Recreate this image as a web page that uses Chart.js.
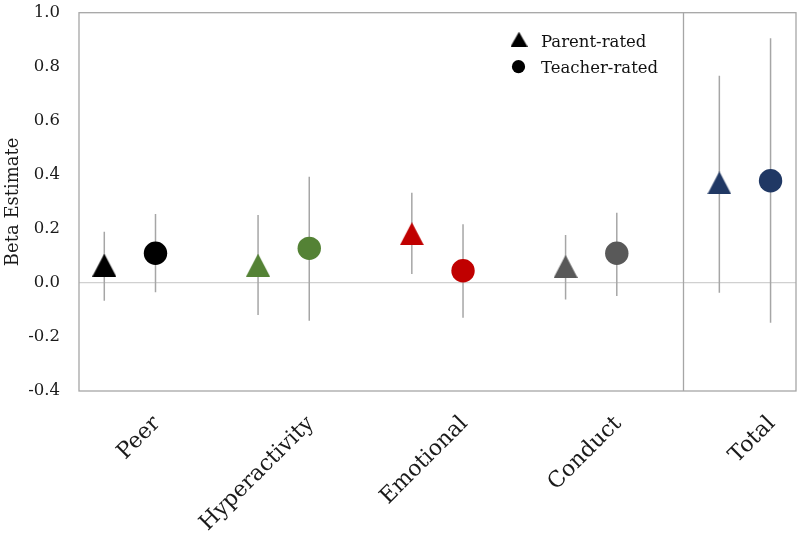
<!DOCTYPE html>
<html>
<head>
<meta charset="utf-8">
<script src="https://cdn.jsdelivr.net/npm/chart.js@4/dist/chart.umd.min.js"></script>
<style>
html,body{margin:0;padding:0;background:#fff;}
#wrap{width:800px;height:539px;position:relative;}
</style>
</head>
<body>
<div id="wrap"><canvas id="c" width="800" height="539"></canvas></div>
<script>
// ---- data ----
const categories = ['Peer', 'Hyperactivity', 'Emotional', 'Conduct', 'Total'];
const parentEst = [0.066, 0.066, 0.182, 0.061, 0.370];
const parentLo  = [-0.066, -0.119, 0.033, -0.061, -0.036];
const parentHi  = [0.189, 0.251, 0.334, 0.177, 0.767];
const teacherEst = [0.110, 0.128, 0.045, 0.110, 0.378];
const teacherLo  = [-0.035, -0.140, -0.129, -0.048, -0.147];
const teacherHi  = [0.255, 0.393, 0.217, 0.260, 0.905];
const yTicks = [-0.4, -0.2, 0.0, 0.2, 0.4, 0.6, 0.8, 1.0];
const legendLabels = ['Parent-rated', 'Teacher-rated'];

// ---- styles ----
const catColors = ['#000000', '#548235', '#C00000', '#595959', '#203864'];
const pairOffset = 0.1665;
const separatorAt = 3.597;
const serif = '"DejaVu Serif", "Liberation Serif", serif';

function makeTriangle(color, w, h) {
  const cv = document.createElement('canvas');
  cv.width = w; cv.height = h;
  const g = cv.getContext('2d');
  g.fillStyle = color;
  g.beginPath();
  g.moveTo(w / 2, 0);
  g.lineTo(w, h);
  g.lineTo(0, h);
  g.closePath();
  g.fill();
  return cv;
}

const parentPts = categories.map((c, i) => ({x: i - pairOffset, y: parentEst[i]}));
const teacherPts = categories.map((c, i) => ({x: i + pairOffset, y: teacherEst[i]}));
const errPts = [];
categories.forEach((c, i) => {
  errPts.push({x: i - pairOffset, y: parentLo[i]}, {x: i - pairOffset, y: parentHi[i]}, {x: i - pairOffset, y: null});
  errPts.push({x: i + pairOffset, y: teacherLo[i]}, {x: i + pairOffset, y: teacherHi[i]}, {x: i + pairOffset, y: null});
});

function zeroPad(scale) {
  scale.paddingTop = 0; scale.paddingBottom = 0;
  scale.paddingLeft = 0; scale.paddingRight = 0;
}

const decoPlugin = {
  id: 'deco',
  beforeDatasetsDraw(chart) {
    const {ctx, chartArea: a, scales: {x}} = chart;
    ctx.save();
    ctx.strokeStyle = '#a6a6a6';
    ctx.lineWidth = 1.3;
    ctx.strokeRect(a.left, a.top, a.right - a.left, a.bottom - a.top);
    const sx = Math.round(x.getPixelForValue(separatorAt)) + 0.5;
    ctx.beginPath();
    ctx.moveTo(sx, a.top);
    ctx.lineTo(sx, a.bottom);
    ctx.stroke();
    ctx.restore();
  },
  afterDraw(chart) {
    const {ctx} = chart;
    ctx.save();
    ctx.fillStyle = '#000';
    const tri = makeTriangle('#000', 17, 15);
    ctx.drawImage(tri, 519 - 8.5, 39.2 - 7.5);
    ctx.beginPath();
    ctx.arc(518.5, 66.7, 6.6, 0, Math.PI * 2);
    ctx.fill();
    ctx.font = '16.5px ' + serif;
    ctx.textBaseline = 'alphabetic';
    ctx.textAlign = 'left';
    ctx.fillStyle = '#111';
    ctx.fillText(legendLabels[0], 541, 46.7);
    ctx.fillText(legendLabels[1], 541, 73.3);
    ctx.restore();
  }
};

new Chart(document.getElementById('c'), {
  type: 'scatter',
  data: {
    datasets: [
      {
        label: 'err',
        data: errPts,
        showLine: true,
        spanGaps: false,
        borderColor: '#a6a6a6',
        borderWidth: 1.5,
        pointRadius: 0,
        order: 3
      },
      {
        label: legendLabels[0],
        data: parentPts,
        pointStyle: catColors.map(c => makeTriangle(c, 24, 23)),
        pointRadius: 12,
        order: 1
      },
      {
        label: legendLabels[1],
        data: teacherPts,
        pointStyle: 'circle',
        pointRadius: 11.7,
        pointBackgroundColor: catColors,
        pointBorderWidth: 0,
        borderColor: catColors,
        order: 2
      }
    ]
  },
  options: {
    responsive: false,
    animation: false,
    events: [],
    layout: {autoPadding: false, padding: {top: 12.7, right: 4, left: 0, bottom: 0}},
    plugins: {legend: {display: false}, tooltip: {enabled: false}},
    scales: {
      x: {
        type: 'linear',
        min: -0.331,
        max: 4.332,
        grid: {display: false, drawTicks: false},
        border: {display: false},
        afterBuildTicks(scale) { scale.ticks = categories.map((c, i) => ({value: i})); },
        afterFit(scale) { scale.height = 148; zeroPad(scale); },
        ticks: {
          autoSkip: false,
          maxRotation: 45,
          minRotation: 45,
          padding: 20,
          labelOffset: 27,
          color: '#1a1a1a',
          font: {family: serif, size: 22},
          callback: (v) => categories[v]
        }
      },
      y: {
        min: -0.4,
        max: 1.0,
        afterBuildTicks(scale) { scale.ticks = yTicks.map(v => ({value: v})); },
        afterFit(scale) { scale.width = 79; zeroPad(scale); },
        border: {display: false},
        grid: {
          drawTicks: false,
          color: (ctx) => (ctx.tick && Math.abs(ctx.tick.value) < 1e-9) ? '#d0d0d0' : 'rgba(0,0,0,0)',
          lineWidth: 1.3
        },
        ticks: {
          padding: 19,
          color: '#1a1a1a',
          font: {family: serif, size: 16.5},
          callback: (v) => (Math.round(v * 10) / 10).toFixed(1)
        },
        title: {
          display: true,
          text: 'Beta Estimate',
          color: '#1a1a1a',
          font: {family: serif, size: 18},
          padding: {top: 3, bottom: 0}
        }
      }
    }
  },
  plugins: [decoPlugin]
});
</script>
</body>
</html>
